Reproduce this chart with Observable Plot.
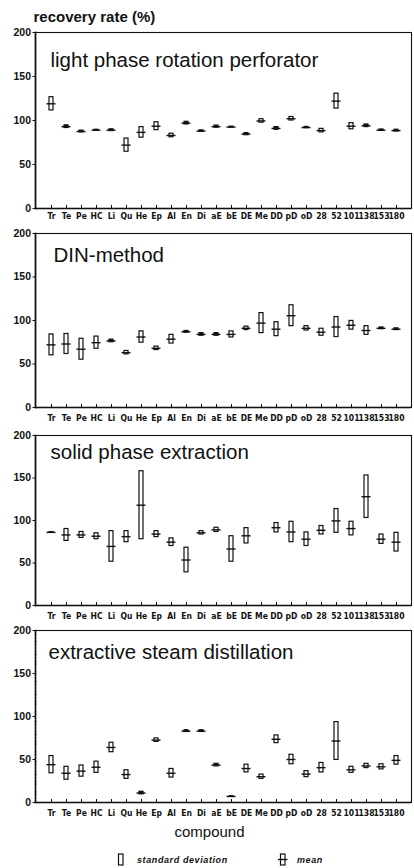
<!DOCTYPE html>
<html><head><meta charset="utf-8">
<script src="https://cdn.jsdelivr.net/npm/d3@7"></script>
<script src="https://cdn.jsdelivr.net/npm/@observablehq/plot@0.6"></script>
<style>
html,body{margin:0;padding:0;background:#fff;}
#chart{width:414px;position:relative;}
#chart svg{display:block;}
#legend{position:relative;height:26px;width:414px;font-family:"Liberation Sans",Arial,sans-serif;font-style:italic;font-weight:bold;font-size:9px;letter-spacing:0.6px;color:#111;}
#legend span{position:absolute;top:12px;line-height:12px;}
#legend svg{position:absolute;}
</style></head><body>
<div id="chart"></div>
<script>
const compounds = ["Tr","Te","Pe","HC","Li","Qu","He","Ep","Al","En","Di","aE","bE","DE","Me","DD","pD","oD","28","52","101","138","153","180"];
const yTicks = [0, 50, 100, 150, 200];

const lprpMean = [119, 93, 87.5, 89, 89, 72, 86.5, 93.5, 83, 97, 88, 93, 92.5, 84.5, 99.5, 91, 102, 92, 88.5, 122, 93.5, 94, 89, 88.5];
const lprpSd   = [7.5, 1.5, 1, 0.5, 1, 7.5, 6, 4.5, 2, 1.5, 0.8, 1.2, 0.5, 1.2, 2, 1.5, 2, 0.7, 2, 8.5, 3.5, 1.5, 0.8, 1];

const dinMean = [72, 73, 67, 74.5, 76.5, 63, 81, 68, 78.5, 87, 84, 84, 84, 91, 97, 90, 105.5, 91, 86.5, 92.5, 94.5, 88.5, 91, 90];
const dinSd   = [12, 11.5, 12, 7, 1.5, 2, 6.5, 2, 5, 1, 1.5, 1.5, 3.5, 2, 11.5, 8, 12, 2.5, 4, 11.5, 5, 5, 1, 1];

const speMean = [86, 83, 83, 81.5, 69.5, 81, 118, 84, 74.5, 53.5, 85.5, 89, 66.5, 82, null, 91.5, 86.5, 78, 88.5, 99.5, 90.5, 128, 78, 74.5];
const speSd   = [0.3, 7, 3.5, 3.5, 18, 6.5, 40, 3.5, 4.5, 14.5, 2, 2.5, 15, 9, null, 5.5, 12, 8, 5, 14, 8, 25, 5.5, 11];

const esdMean = [44, 34, 36.5, 41, 64, 32.5, 11, 72.5, 34, 83, 83, 43.5, 7, 39.5, 30, 73.5, 50, 33, 40.5, 71.5, 38, 42.5, 41.5, 49];
const esdSd   = [10, 7.5, 6.5, 6.5, 5.5, 5, 1.5, 2, 5, 1, 1, 1.5, 0.3, 4.5, 2.5, 4.5, 5.5, 3.5, 5.5, 22, 3.5, 2.5, 3, 5];

const panels = [
  {title: "light phase rotation perforator", mean: lprpMean, sd: lprpSd, height: 228, mt: 32, mb: 20, tp: 4, tdx: 15, tdy: 28, yLabel: true},
  {title: "DIN-method", mean: dinMean, sd: dinSd, height: 199, mt: 5, mb: 20, tp: 7, tdx: 18, tdy: 22},
  {title: "solid phase extraction", mean: speMean, sd: speSd, height: 198, mt: 8, mb: 20, tp: 7, tdx: 15, tdy: 17},
  {title: "extractive steam distillation", mean: esdMean, sd: esdSd, height: 217, mt: 5, mb: 40, tp: 7, tdx: 13, tdy: 22, xLabel: true, dashedLeft: true}
];

const chart = document.getElementById("chart");
const sans = "'Liberation Sans', Arial, Helvetica, sans-serif";
const narrow = "'Liberation Sans Narrow', 'DejaVu Sans Condensed', 'Liberation Sans', sans-serif";

for (const p of panels) {
  const data = compounds.map((c, i) => ({c, m: p.mean[i], s: p.sd[i]})).filter(d => d.m != null);
  const marks = [
    Plot.frame({stroke: "#111", strokeWidth: 1.1}),
    Plot.frame({anchor: "left", stroke: "#111", strokeWidth: 1.7, strokeDasharray: p.dashedLeft ? "5,2,1,2" : null}),
    Plot.ruleY([0], {stroke: "#111", strokeWidth: 1.7}),
    Plot.axisY({ticks: yTicks, tickSize: 2.5, tickPadding: 2, fontSize: 10.5, fontWeight: "bold", fontFamily: sans, label: null}),
    Plot.axisX({tickSize: 0, tickPadding: p.tp, fontSize: 8.5, fontWeight: "bold", fontFamily: narrow, label: null}),
    Plot.ruleX(compounds, {x: d => d, y1: 0, y2: 3.5, stroke: "#111", strokeWidth: 1}),
    Plot.barY(data, {x: "c", y1: d => d.m - d.s, y2: d => d.m + d.s, fill: d => d.s < 2 ? "#111" : "white", stroke: "#111", strokeWidth: 1.2}),
    Plot.tickY(data, {x: "c", y: "m", insetLeft: -2.5, insetRight: -2.5, stroke: "#111", strokeWidth: 1.4}),
    Plot.text([p.title], {frameAnchor: "top-left", dx: p.tdx, dy: p.tdy, textAnchor: "start", lineAnchor: "middle", fontSize: 20.5, fontFamily: sans, fill: "#111"})
  ];
  if (p.yLabel) marks.push(Plot.text(["recovery rate (%)"], {frameAnchor: "top-left", dx: -2, dy: -15, textAnchor: "start", lineAnchor: "middle", fontSize: 15, fontWeight: "bold", fontFamily: sans, fill: "#111"}));
  if (p.xLabel) marks.push(Plot.text(["compound"], {frameAnchor: "bottom", dx: -14, dy: 30, lineAnchor: "middle", fontSize: 15, fontFamily: sans, fill: "#111"}));
  const svg = Plot.plot({
    width: 414, height: p.height,
    marginLeft: 35, marginRight: 3, marginTop: p.mt, marginBottom: p.mb,
    x: {type: "band", domain: compounds, paddingInner: 0.75, paddingOuter: 0.275, axis: null},
    y: {domain: [0, 200], axis: null},
    style: {background: "white", color: "#111", fontFamily: sans, overflow: "visible"},
    marks
  });
  chart.appendChild(svg);
}

// legend below the plots
const legend = document.createElement("div");
legend.id = "legend";
legend.innerHTML =
  '<svg width="8" height="14" style="left:117px;top:11px"><rect x="1.5" y="1" width="4.5" height="11" fill="white" stroke="#111" stroke-width="1.2"/></svg>' +
  '<span style="left:137px">standard deviation</span>' +
  '<svg width="12" height="14" style="left:277px;top:11px"><rect x="3.5" y="1" width="4.5" height="11" fill="white" stroke="#111" stroke-width="1.2"/><line x1="1" x2="10.5" y1="6.5" y2="6.5" stroke="#111" stroke-width="1.4"/></svg>' +
  '<span style="left:297px">mean</span>';
chart.appendChild(legend);
</script>
</body></html>
